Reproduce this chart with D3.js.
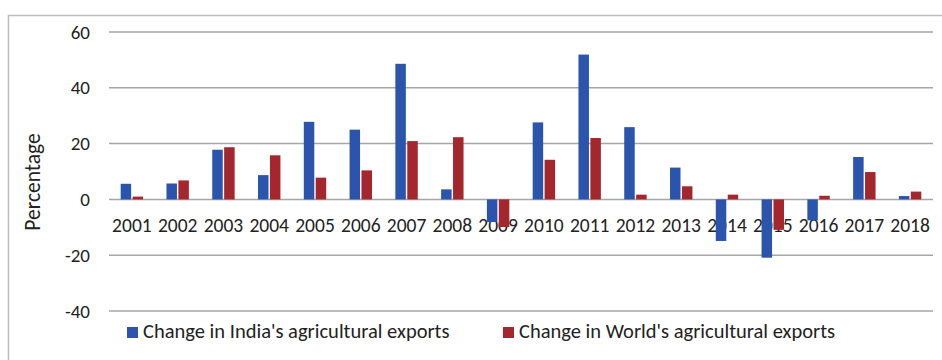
<!DOCTYPE html>
<html>
<head>
<meta charset="utf-8">
<script src="https://cdn.jsdelivr.net/npm/d3@7"></script>
<style>
  html, body { margin: 0; padding: 0; background: #ffffff; }
  svg { display: block; }
  text { font-family: Carlito, Calibri, Lato, "Open Sans", sans-serif; fill: #222222; }
</style>
</head>
<body>
<svg id="chart" width="942" height="360"></svg>
<script>
// Annual change in agricultural exports, percent
const years = ["2001","2002","2003","2004","2005","2006","2007","2008","2009",
               "2010","2011","2012","2013","2014","2015","2016","2017","2018"];
const indiaChange = [5.6, 5.7, 17.8, 8.7, 27.8, 25.0, 48.6, 3.6, -8.1,
                     27.6, 51.9, 25.9, 11.4, -14.9, -20.9, -7.5, 15.2, 1.2];
const worldChange = [1.0, 6.8, 18.7, 15.8, 7.8, 10.4, 20.9, 22.3, -9.9,
                     14.2, 22.0, 1.7, 4.7, 1.7, -10.9, 1.3, 9.8, 2.8];
const seriesNames = ["Change in India's agricultural exports",
                     "Change in World's agricultural exports"];
const yTicks = [-40, -20, 0, 20, 40, 60];
const colors = ["#2b55ad", "#a3272c"];

const svg = d3.select("#chart");
const fontStack = "Carlito, Calibri, Lato, sans-serif";

// outer frame (extends beyond the visible area on the right and bottom)
svg.append("rect")
  .attr("x", 8.5).attr("y", 15.5)
  .attr("width", 960).attr("height", 400)
  .attr("fill", "#ffffff")
  .attr("stroke", "#bdbdbd").attr("stroke-width", 1.5);

const plot = { left: 109, right: 933, top: 32, bottom: 311 };

const x = d3.scaleBand().domain(years)
  .range([plot.left, plot.right]).paddingInner(0).paddingOuter(0);
const sub = d3.scaleBand().domain([0, 1])
  .range([0, x.bandwidth()]).paddingInner(0.12).paddingOuter(0.98);
const y = d3.scaleLinear().domain([-40, 60]).range([plot.bottom, plot.top]);

// horizontal gridlines
svg.append("g")
  .selectAll("line").data(yTicks).join("line")
  .attr("x1", plot.left).attr("x2", plot.right)
  .attr("y1", d => y(d)).attr("y2", d => y(d))
  .attr("stroke", "#a6a6a6").attr("stroke-width", 1.5);

// y-axis tick labels (plain hyphen for negatives)
const yAxis = d3.axisLeft(y).tickValues(yTicks).tickSize(0).tickPadding(0)
  .tickFormat(d => String(d));
svg.append("g")
  .attr("transform", `translate(${plot.left - 19},0)`)
  .call(yAxis)
  .call(g => g.select(".domain").remove())
  .selectAll("text")
  .attr("font-size", 19)
  .attr("fill", "#222222")
  .style("font-family", fontStack);

// category labels sit just under the zero line, behind the bars
const xAxis = d3.axisBottom(x).tickSize(0).tickPadding(0);
svg.append("g")
  .attr("transform", `translate(0,${y(0) + 19})`)
  .call(xAxis)
  .call(g => g.select(".domain").remove())
  .selectAll("text")
  .attr("font-size", 19.5)
  .attr("fill", "#222222")
  .style("font-family", fontStack);

// bars
const data = years.map((yr, i) => ({ yr, vals: [indiaChange[i], worldChange[i]] }));
const groups = svg.append("g").selectAll("g").data(data).join("g")
  .attr("transform", d => `translate(${x(d.yr)},0)`);
groups.selectAll("rect")
  .data(d => d.vals.map((v, k) => ({ v, k })))
  .join("rect")
  .attr("x", d => sub(d.k))
  .attr("width", sub.bandwidth())
  .attr("y", d => y(Math.max(0, d.v)))
  .attr("height", d => Math.abs(y(d.v) - y(0)))
  .attr("fill", d => colors[d.k]);

// y-axis title
svg.append("text")
  .attr("transform", "translate(40,182) rotate(-90)")
  .attr("text-anchor", "middle")
  .attr("font-size", 21.5)
  .text("Percentage");

// legend
const legendX = [127, 503];
const legend = svg.append("g").selectAll("g").data(seriesNames).join("g")
  .attr("transform", (d, i) => `translate(${legendX[i]},327)`);
legend.append("rect")
  .attr("width", 11).attr("height", 11)
  .attr("fill", (d, i) => colors[i]);
legend.append("text")
  .attr("x", 16).attr("y", 10.5)
  .attr("font-size", 20.5)
  .text(d => d);
</script>
</body>
</html>
